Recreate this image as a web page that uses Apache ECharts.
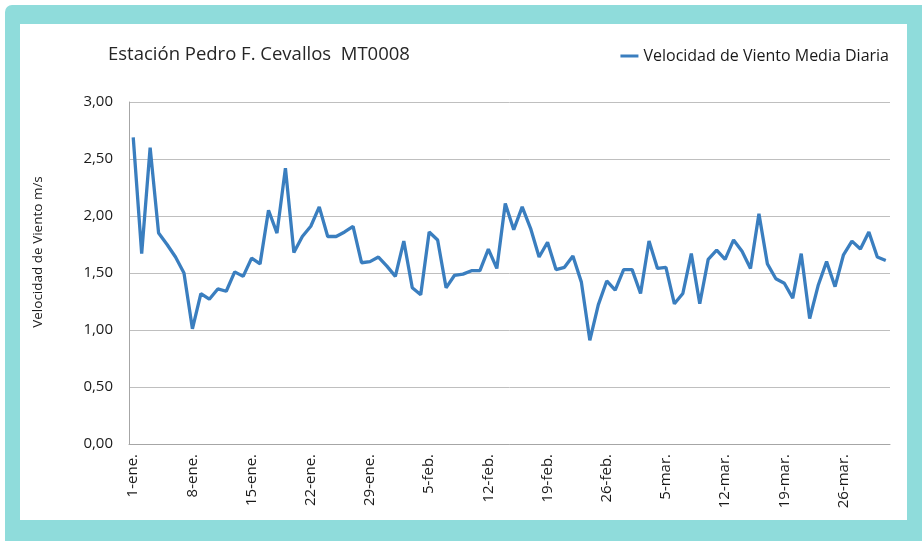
<!DOCTYPE html>
<html>
<head>
<meta charset="utf-8">
<script src="https://cdn.jsdelivr.net/npm/echarts@6/dist/echarts.min.js"></script>
<style>
  html, body { margin: 0; padding: 0; background: #ffffff; }
  .frame {
    position: absolute; left: 5px; top: 5px; width: 917px; height: 536px;
    background: #8fdcdb; border-top-left-radius: 7px;
  }
  .inner {
    position: absolute; left: 20px; top: 24px; width: 887px; height: 496px;
    background: #ffffff;
  }
  #chart { position: absolute; left: 0; top: 0; width: 922px; height: 541px; }
</style>
</head>
<body>
<div class="frame"></div>
<div class="inner"></div>
<div id="chart"></div>
<script>
// meses y días por mes (1-ene a 31-mar)
const months = ['ene.', 'feb.', 'mar.'];
const monthDays = [31, 28, 31];

// velocidad de viento media diaria (m/s)
const windSpeed = [
  2.69, 1.67, 2.60, 1.85, 1.75, 1.64, 1.50, 1.01, 1.32, 1.27,
  1.36, 1.34, 1.51, 1.47, 1.63, 1.58, 2.05, 1.85, 2.42, 1.68,
  1.82, 1.91, 2.08, 1.82, 1.82, 1.86, 1.91, 1.59, 1.60, 1.64,
  1.56, 1.47, 1.78, 1.37, 1.31, 1.86, 1.79, 1.37, 1.48, 1.49,
  1.52, 1.52, 1.71, 1.54, 2.11, 1.88, 2.08, 1.89, 1.64, 1.77,
  1.53, 1.55, 1.65, 1.42, 0.91, 1.22, 1.43, 1.35, 1.53, 1.53,
  1.32, 1.78, 1.54, 1.55, 1.23, 1.32, 1.67, 1.23, 1.62, 1.70,
  1.62, 1.79, 1.69, 1.54, 2.02, 1.58, 1.45, 1.41, 1.28, 1.67,
  1.10, 1.39, 1.60, 1.38, 1.66, 1.78, 1.71, 1.86, 1.64, 1.61
];

const days = [];
months.forEach((m, i) => {
  for (let d = 1; d <= monthDays[i]; d++) days.push(d + '-' + m);
});

const chart = echarts.init(document.getElementById('chart'));
const font = '"Open Sans", "Noto Sans", sans-serif';

chart.setOption({
  backgroundColor: 'transparent',
  animation: false,
  textStyle: { fontFamily: font },
  title: {
    text: 'Estación Pedro F. Cevallos  MT0008',
    left: 103,
    top: 40,
    textStyle: { fontSize: 18.5, fontWeight: 'normal', color: '#262626', fontFamily: font }
  },
  legend: {
    right: 28,
    top: 43,
    icon: 'rect',
    itemWidth: 18,
    itemHeight: 3,
    textStyle: { fontSize: 16, color: '#1a1a1a', fontFamily: font },
    data: ['Velocidad de Viento Media Diaria']
  },
  // título del eje Y, centrado algo por encima del centro del área
  graphic: [
    {
      type: 'text',
      x: 38,
      y: 252,
      rotation: Math.PI / 2,
      style: {
        text: 'Velocidad de Viento m/s',
        fontSize: 13.5,
        fontFamily: font,
        fill: '#1a1a1a',
        align: 'center',
        verticalAlign: 'middle'
      }
    }
  ],
  grid: { left: 129, right: 32, top: 102, bottom: 97 },
  xAxis: {
    type: 'category',
    data: days,
    boundaryGap: true,
    axisLine: { lineStyle: { color: '#a6a6a6', width: 1 } },
    axisTick: { show: false },
    axisLabel: {
      interval: 6,
      rotate: 90,
      margin: 10,
      fontSize: 15,
      color: '#1a1a1a',
      fontFamily: font
    },
    splitLine: { show: false }
  },
  yAxis: {
    type: 'value',
    min: 0,
    max: 3,
    interval: 0.5,
    axisLine: { show: true, lineStyle: { color: '#a6a6a6', width: 1 } },
    axisTick: { show: false },
    axisLabel: {
      margin: 16,
      fontSize: 15,
      color: '#1a1a1a',
      fontFamily: font,
      formatter: (v) => v.toFixed(2).replace('.', ',')
    },
    splitLine: { lineStyle: { color: '#bfbfbf', width: 1 } }
  },
  series: [
    {
      name: 'Velocidad de Viento Media Diaria',
      type: 'line',
      data: windSpeed,
      symbol: 'none',
      lineStyle: { color: '#3a7ebf', width: 3.3 },
      itemStyle: { color: '#3a7ebf' }
    }
  ]
});
</script>
</body>
</html>
